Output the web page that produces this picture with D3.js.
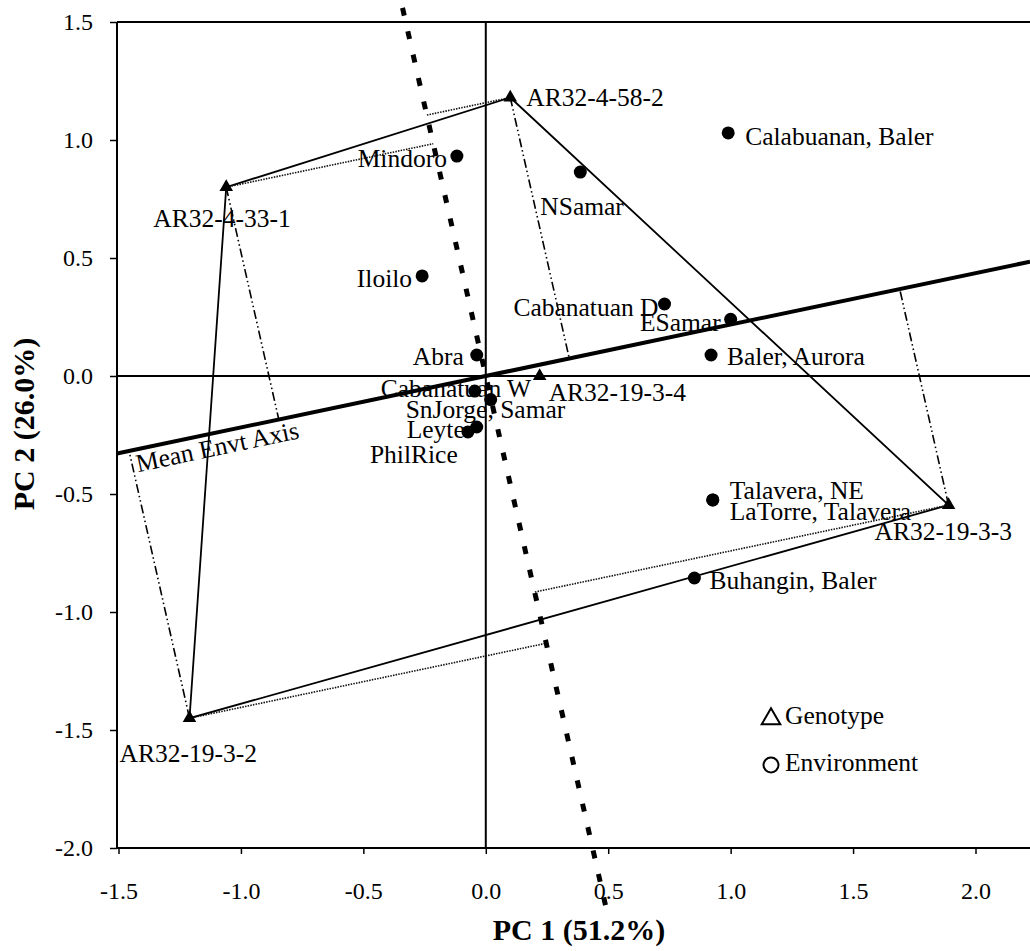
<!DOCTYPE html>
<html><head><meta charset="utf-8">
<script src="https://cdn.jsdelivr.net/npm/d3@7"></script>
<style>
body{margin:0;background:#fff}
text{font-family:"Liberation Serif","Times New Roman",serif;fill:#000}
</style>
</head><body><svg id="c" width="1030" height="951"></svg>
<script>
// ---------- data ----------
const genotypes = ["AR32-4-58-2","AR32-4-33-1","AR32-19-3-2","AR32-19-3-3","AR32-19-3-4"];
const genoPC1 = [0.10,-1.06,-1.21,1.89,0.22];
const genoPC2 = [1.18,0.80,-1.45,-0.547,0.0];
const environments = ["Calabuanan, Baler","NSamar","Mindoro","Iloilo","Cabanatuan D","ESamar","Baler, Aurora","Abra","Cabanatuan W","SnJorge, Samar","Leyte","PhilRice","Talavera, NE","LaTorre, Talavera","Buhangin, Baler"];
const envPC1 = [0.99,0.386,-0.118,-0.26,0.73,1.0,0.92,-0.037,-0.045,0.02,-0.037,-0.073,0.927,0.927,0.852];
const envPC2 = [1.03,0.864,0.932,0.424,0.305,0.24,0.089,0.089,-0.064,-0.10,-0.216,-0.237,-0.525,-0.525,-0.856];
const hullOrder = ["AR32-4-58-2","AR32-19-3-3","AR32-19-3-2","AR32-4-33-1"];
const meanEnvSlope = 0.218;          // PC2/PC1 direction of the mean environment
const ordinatePC2 = [1.56,-2.27];    // extent of the AEC ordinate (PC2 values)
const xTicks = [-1.5,-1.0,-0.5,0.0,0.5,1.0,1.5,2.0];
const yTicks = [-2.0,-1.5,-1.0,-0.5,0.0,0.5,1.0,1.5];
const xTitle = "PC 1 (51.2%)";
const yTitle = "PC 2 (26.0%)";
const legendItems = ["Genotype","Environment"];

// ---------- layout / style ----------
const labelPos = { // [dx, dy, anchor]
  "AR32-4-58-2":[16,8,"start"], "AR32-4-33-1":[-73,40,"start"], "AR32-19-3-2":[-70,44,"start"],
  "AR32-19-3-3":[-74,35,"start"], "AR32-19-3-4":[9,25,"start"],
  "Calabuanan, Baler":[17,12,"start"], "NSamar":[-40,43,"start"], "Mindoro":[-10,11,"end"],
  "Iloilo":[-10,11,"end"], "Cabanatuan D":[-6,12,"end"], "ESamar":[-10,12,"end"],
  "Baler, Aurora":[16,10,"start"], "Abra":[-13,10,"end"], "Cabanatuan W":[-94,6,"start"],
  "SnJorge, Samar":[-85,18,"start"], "Leyte":[-70,11,"start"], "PhilRice":[-98,31,"start"],
  "Talavera, NE":[17,-1,"start"], "LaTorre, Talavera":[17,20,"start"], "Buhangin, Baler":[15,11,"start"]
};
const W = 1030, H = 951;
const x = d3.scaleLinear().domain([-1.5,2.0]).range([118.5,975.5]);
const y = d3.scaleLinear().domain([-2.0,1.5]).range([848,22]);
const xMax = x.invert(W);
const LEFT = 117;

const svg = d3.select("#c");
const g = svg.append("g");

// frame
g.append("line").attr("x1",LEFT).attr("x2",W).attr("y1",y(1.5)).attr("y2",y(1.5)).attr("stroke","#000").attr("stroke-width",2);
g.append("line").attr("x1",LEFT).attr("x2",W).attr("y1",y(-2)).attr("y2",y(-2)).attr("stroke","#000").attr("stroke-width",2);
g.append("line").attr("x1",LEFT).attr("x2",LEFT).attr("y1",y(1.5)).attr("y2",y(-2)).attr("stroke","#000").attr("stroke-width",2);

// axes
const fmt = d => d.toFixed(1);
const yAx = g.append("g").attr("transform",`translate(${LEFT},0)`)
  .call(d3.axisLeft(y).tickValues(yTicks).tickFormat(fmt).tickSize(7).tickPadding(17));
const xAx = g.append("g").attr("transform",`translate(0,${y(-2)})`)
  .call(d3.axisBottom(x).tickValues(xTicks).tickFormat(fmt).tickSize(6).tickPadding(28));
[yAx,xAx].forEach(a=>{
  a.select(".domain").remove();
  a.selectAll(".tick line").attr("stroke","#000").attr("stroke-width",1.5);
  a.selectAll(".tick text").attr("font-size",24).attr("font-family","Liberation Serif").attr("fill","#000");
});

// zero lines
g.append("line").attr("x1",x(0)).attr("x2",x(0)).attr("y1",y(1.5)).attr("y2",y(-2)).attr("stroke","#000").attr("stroke-width",2);
g.append("line").attr("x1",LEFT).attr("x2",W).attr("y1",y(0)).attr("y2",y(0)).attr("stroke","#000").attr("stroke-width",2);

// data objects
const G = genotypes.map((n,i)=>({name:n,pc1:genoPC1[i],pc2:genoPC2[i]}));
const E = environments.map((n,i)=>({name:n,pc1:envPC1[i],pc2:envPC2[i]}));
const byName = Object.fromEntries(G.map(d=>[d.name,d]));

// projection helpers
const n2 = 1 + meanEnvSlope*meanEnvSlope;
const onAxis = d => { const t=(d.pc1 + meanEnvSlope*d.pc2)/n2; return [t, t*meanEnvSlope]; };
const onOrd = d => { const t=(-meanEnvSlope*d.pc1 + d.pc2)/n2; return [-meanEnvSlope*t, t]; };

const line = d3.line().x(d=>x(d[0])).y(d=>y(d[1]));

// hull polygon
g.append("path").datum(hullOrder.map(n=>[byName[n].pc1,byName[n].pc2]))
  .attr("d",d=>line(d)+"Z").attr("fill","none").attr("stroke","#000").attr("stroke-width",1.8);

// dash-dot projections onto mean axis
hullOrder.forEach(n=>{
  const d=byName[n];
  g.append("path").datum([[d.pc1,d.pc2],onAxis(d)]).attr("d",line)
   .attr("fill","none").attr("stroke","#000").attr("stroke-width",1.6).attr("stroke-dasharray","9,3,1.5,3,1.5,3");
});
// dotted projections onto ordinate
hullOrder.forEach(n=>{
  const d=byName[n];
  g.append("path").datum([[d.pc1,d.pc2],onOrd(d)]).attr("d",line)
   .attr("fill","none").attr("stroke","#111").attr("stroke-width",1.6).attr("stroke-dasharray","1.5,1.2");
});

// mean environment axis
g.append("path").datum([[x.invert(LEFT),x.invert(LEFT)*meanEnvSlope],[xMax,xMax*meanEnvSlope]]).attr("d",line)
  .attr("stroke","#000").attr("stroke-width",4).attr("fill","none");
// AEC ordinate
g.append("path").datum(ordinatePC2.map(v=>[-meanEnvSlope*v,v])).attr("d",line)
  .attr("stroke","#000").attr("stroke-width",5).attr("fill","none").attr("stroke-dasharray","8,16");

// mean envt axis label
const ang = Math.atan2(y(0)-y(meanEnvSlope), x(1)-x(0))*180/Math.PI;
g.append("text").attr("transform",`translate(${LEFT+21},${y(-1.5*meanEnvSlope)+19}) rotate(${-ang})`)
  .attr("font-size",25.5).text("Mean Envt Axis");

// points
g.selectAll(".env").data(E).join("circle").attr("cx",d=>x(d.pc1)).attr("cy",d=>y(d.pc2)).attr("r",6.5).attr("fill","#000");
g.selectAll(".gen").data(G).join("path").attr("d",d3.symbol(d3.symbolTriangle).size(80))
  .attr("transform",d=>`translate(${x(d.pc1)},${y(d.pc2)})`).attr("fill","#000");

// labels
g.selectAll(".lab").data(G.concat(E)).join("text")
  .attr("x",d=>x(d.pc1)+labelPos[d.name][0]).attr("y",d=>y(d.pc2)+labelPos[d.name][1])
  .attr("text-anchor",d=>labelPos[d.name][2]).attr("font-size",25.5).text(d=>d.name);

// legend
const lg = g.append("g");
lg.append("path").attr("d",d3.symbol(d3.symbolTriangle).size(150)).attr("transform","translate(771,719)")
  .attr("fill","none").attr("stroke","#000").attr("stroke-width",2);
lg.append("circle").attr("cx",771).attr("cy",765).attr("r",7.5).attr("fill","none").attr("stroke","#000").attr("stroke-width",2);
lg.selectAll("text").data(legendItems).join("text").attr("x",785).attr("y",(d,i)=>724+i*47).attr("font-size",25.5).text(d=>d);

// titles
g.append("text").attr("x",579).attr("y",940).attr("text-anchor","middle").attr("font-size",30).attr("font-weight","bold").text(xTitle);
g.append("text").attr("transform","translate(34,424) rotate(-90)").attr("text-anchor","middle").attr("font-size",30).attr("font-weight","bold").text(yTitle);
</script>
</body></html>
